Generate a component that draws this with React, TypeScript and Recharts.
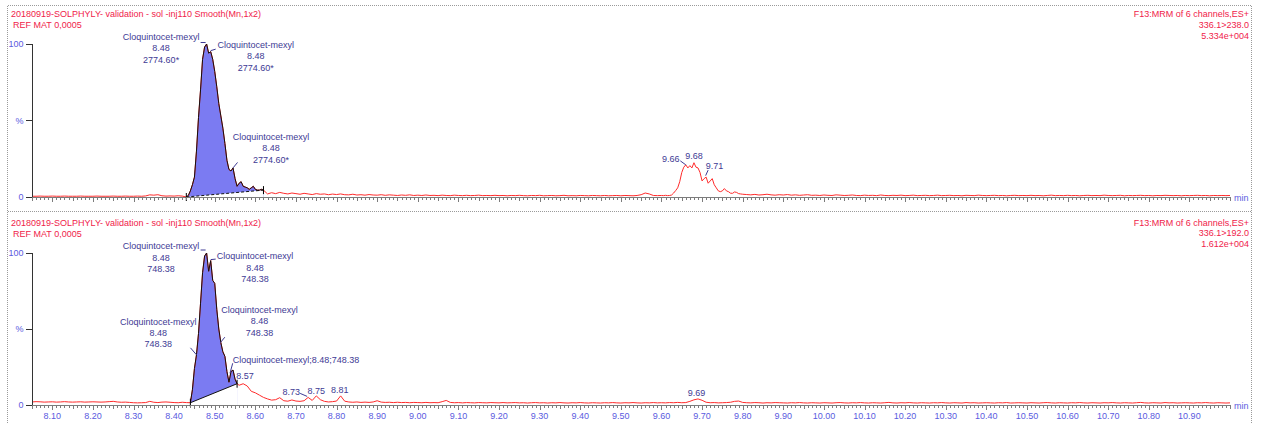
import { ComposedChart, Line, Area, Scatter, XAxis, YAxis } from "recharts"

const RED = "#ff2b2b"
const HEAD = "#f0224a"
const TICK = "#5a5ae0"
const NOTE = "#3e3a94"
const FILL = "#7b7bf2"
const FONT = "'Liberation Sans', Arial, sans-serif"

// x axis: labelled every 0.1 min, ticks every 0.01 min
const xLabels = [
  "8.10", "8.20", "8.30", "8.40", "8.50", "8.60", "8.70", "8.80", "8.90", "9.00",
  "9.10", "9.20", "9.30", "9.40", "9.50", "9.60", "9.70", "9.80", "9.90", "10.00",
  "10.10", "10.20", "10.30", "10.40", "10.50", "10.60", "10.70", "10.80", "10.90",
]
const xMajor = xLabels.map(Number)
const xTicks: number[] = []
for (let i = 805; i <= 1100; i++) xTicks.push(i / 100)

// 336.1>238.0 trace (%)
const topPre = [
  0.5, 0.5, 0.6, 0.5, 0.5, 0.6, 0.5, 0.5, 0.6, 0.5,
  0.5, 0.5, 0.6, 0.5, 0.5, 0.5, 0.6, 0.5, 0.5, 0.5,
  0.6, 0.5, 0.5, 0.6, 0.5, 0.5, 0.6, 0.5, 0.7, 1.4,
  1.2, 1.5, 0.8, 0.6, 0.7, 0.6, 0.8, 0.6,
]
const topPeak = [
  0, 1, 4, 8, 13, 30, 52, 70, 90, 98,
  100, 94, 95, 90, 82, 72, 61, 53, 45, 35,
  24, 18, 17, 19, 12, 7, 9, 10, 7, 6.5,
  6, 5, 6, 7, 5, 4.5, 4.5, 5, 4.5,
]
const topMid = [
  2.0, 2.8, 2.2, 3.0, 2.4, 2.0, 2.6, 2.2, 1.8, 2.4,
  2.0, 1.6, 2.2, 1.8, 2.0, 1.5, 1.9, 1.6, 2.0, 1.5,
  1.4, 1.8, 1.3, 1.5, 1.2, 1.6, 1.3, 1.2, 1.5, 1.1,
  1.4, 1.2, 1.0, 1.3, 1.1, 1.4, 1.0, 1.2, 1.0, 1.3,
  1.0, 1.1, 0.9, 1.2, 1.0, 0.9, 1.2, 1.0, 0.9, 1.1,
  0.9, 1.0, 1.2, 0.9, 1.0, 0.9, 1.1, 0.9, 1.0, 0.8,
  1.0, 0.9, 1.1, 0.9, 0.8, 1.0, 0.9, 1.1, 0.8, 0.9,
  1.0, 0.8, 0.9, 1.1, 0.8, 0.9, 0.8, 1.0, 0.9, 0.8,
  1.0, 0.9, 0.8, 1.0, 0.8, 0.9, 1.0, 0.8, 1.0, 0.9,
  0.8, 1.0, 1.5, 2.6, 2.0, 1.0, 0.9,
]
const topHump = [
  1.0, 0.9, 1.1, 0.9, 1.0, 1.3, 2.6, 4.2, 6.0, 10,
  16, 19.5, 21, 19, 20.5, 19, 22.4, 19.5, 19, 16,
  10.5, 12, 13, 9, 10.5, 12, 8, 6, 4, 3.5,
  4, 5.5, 4, 3.5, 2.5, 2.4, 3.3, 3, 2.2, 2,
  1.8,
]
const topPost = [
  1.6, 1.4, 1.7, 1.3, 1.5, 1.8, 1.4, 1.2, 1.5, 1.3,
  1.6, 1.2, 1.4, 1.1, 1.3, 1.5, 1.1, 1.2, 1.0, 1.3,
  1.1, 1.0, 1.4, 1.2, 1.0, 1.1, 1.3, 1.0, 0.9, 1.2,
  1.0, 1.1, 0.9, 1.3, 1.0, 0.9, 1.1, 1.0, 1.2, 0.9,
  1.0, 1.2, 0.9, 1.0, 1.1, 0.9, 1.0, 1.2, 0.9, 1.0,
  1.1, 0.9, 1.0, 0.8, 1.1, 1.0, 0.9, 1.2, 1.0, 0.9,
  1.0, 1.1, 0.9, 1.0, 0.8, 1.0, 1.1, 0.9, 1.0, 0.9,
  1.1, 0.9, 1.0, 0.8, 1.0, 1.2, 0.9, 1.0, 0.9, 1.1,
  0.9, 1.0, 0.8, 1.0, 1.1, 0.9, 1.0, 0.9, 1.2, 1.0,
  0.9, 1.0, 1.1, 0.8, 1.0, 0.9, 1.0, 1.1, 0.9, 1.0,
  0.8, 1.0, 0.9, 1.1, 1.0, 0.9, 1.0, 0.8, 1.0, 0.9,
  1.0, 1.1, 0.9, 1.0, 0.8, 1.0, 0.9, 1.0, 0.9, 1.0,
]

// 336.1>192.0 trace (%)
const botPre = [
  2.0, 2.2, 2.1, 1.9, 2.0, 2.1, 1.9, 2.0, 2.2, 2.0,
  1.9, 2.0, 2.1, 1.9, 2.0, 2.1, 2.0, 1.9, 2.0, 2.2,
  2.4, 2.0, 1.8, 1.9, 1.7, 1.5, 1.4, 1.5, 1.6, 2.4,
  1.8, 1.6, 1.9, 2.0, 1.8, 1.6, 1.5, 1.8, 1.6,
]
const botPeak = [
  1.5, 10, 24, 33, 47, 67, 87, 98, 100, 88,
  95, 82, 80, 63, 50, 41, 35, 32, 22, 15,
  22, 23, 17, 14,
]
const botMid = [
  13, 14, 12.5, 9, 8, 6.5, 5, 4, 3.2, 3.5,
  4.8, 2.8, 2.5, 3.3, 2.6, 2.4, 2.8, 5, 3, 6,
  3.5, 2.4, 2.0, 2.2, 2.6, 6, 2.5, 2.0, 1.8, 2.0,
  1.7, 1.9, 1.7, 2.0, 2.8, 1.9, 1.7, 1.8, 1.6, 1.8,
  1.6, 1.7, 1.5, 1.7, 1.6, 1.5, 1.7, 1.5, 1.6, 1.5,
  2.2, 3.0, 1.7, 1.5, 1.6, 1.4, 1.6, 1.5, 1.4, 1.6,
  1.5, 1.4, 1.6, 1.5, 1.4, 1.6, 1.4, 1.5, 1.6, 1.4,
  1.5, 1.3, 1.5, 1.6, 1.4, 1.5, 1.3, 1.5, 1.4, 1.6,
  1.4, 1.3, 1.5, 1.4, 1.6, 1.4, 1.3, 1.5, 1.4, 1.3,
  1.5, 1.4, 1.6, 1.4, 1.3, 1.5, 1.4, 1.6, 1.4, 1.3,
  1.5, 1.4, 1.6, 1.4, 1.5,
]
const botPost = [
  1.4, 1.6, 1.5, 1.7, 1.5, 1.6, 2.4, 3.4, 4.0, 3.1,
  1.8, 1.5, 1.6, 1.4, 1.5, 1.6, 1.8, 2.4, 2.6, 1.7,
  1.5, 1.4, 1.6, 1.5, 1.3, 1.5, 1.4, 1.6, 1.5, 1.4,
  1.3, 1.5, 1.4, 1.6, 1.4, 1.3, 1.5, 1.4, 1.3, 1.5,
  1.4, 1.3, 1.5, 1.6, 1.4, 1.3, 1.5, 1.4, 1.6, 1.4,
  1.3, 1.5, 1.4, 1.3, 1.5, 1.7, 1.4, 1.3, 1.5, 1.4,
  1.6, 1.4, 1.3, 1.5, 1.4, 1.3, 1.5, 1.4, 1.6, 1.4,
  1.3, 1.5, 1.4, 1.3, 1.6, 1.4, 1.5, 1.3, 1.4, 1.5,
  1.4, 1.3, 1.5, 1.4, 1.6, 1.3, 1.4, 1.5, 1.4, 1.3,
  1.5, 1.4, 1.3, 1.5, 1.6, 1.4, 1.3, 1.5, 1.4, 1.3,
  1.5, 1.4, 1.6, 1.4, 1.3, 1.5, 1.4, 1.3, 1.5, 1.4,
  1.6, 1.4, 1.3, 1.5, 1.4, 1.3, 1.5, 1.7, 1.4, 1.3,
  1.5, 1.4, 1.3, 1.6, 1.4, 1.5, 1.3, 1.4, 1.5, 1.4,
  1.3, 1.5, 1.4, 1.6, 1.4, 1.3, 1.5, 1.4, 1.3, 1.4,
]

const topSegments = [
  { from: 8.05, step: 0.01, values: topPre },
  { from: 8.43, step: 0.005, values: topPeak, peak: true },
  { from: 8.63, step: 0.01, values: topMid },
  { from: 9.6, step: 0.005, values: topHump },
  { from: 9.81, step: 0.01, values: topPost },
]
const botSegments = [
  { from: 8.05, step: 0.01, values: botPre },
  { from: 8.44, step: 0.005, values: botPeak, peak: true },
  { from: 8.56, step: 0.01, values: botMid },
  { from: 9.61, step: 0.01, values: botPost },
]

const CQ = "Cloquintocet-mexyl"
const topNotes = [
  { t: 8.48, text: [CQ, "8.48", "2774.60*"] },
  { t: 8.49, text: [CQ, "8.48", "2774.60*"] },
  { t: 8.545, text: [CQ, "8.48", "2774.60*"] },
  { t: 9.66, text: ["9.66"] },
  { t: 9.68, text: ["9.68"] },
  { t: 9.71, text: ["9.71"] },
]
const topNoteLayout = [
  { dx: -45.5, dy: -7.3, anchor: "middle", lead: [-6, -1.5, -1, -1.5] },
  { dx: 45, dy: -6.7, anchor: "middle", lead: [0, -1, 5, -2.5] },
  { dx: 38, dy: -31.2, anchor: "middle", lead: [0, 0, 4.5, -5.5] },
  { dx: -15, dy: -6, anchor: "middle", lead: [-5.5, -4, 0, 0] },
  { dx: 0, dy: -7, anchor: "middle" },
  { dx: 8.4, dy: -11.6, anchor: "middle", lead: [2, -7, -0.5, -1.5] },
]
const botNotes = [
  { t: 8.48, text: [CQ, "8.48", "748.38"] },
  { t: 8.49, text: [CQ, "8.48", "748.38"] },
  { t: 8.455, text: [CQ, "8.48", "748.38"] },
  { t: 8.515, text: [CQ, "8.48", "748.38"] },
  { t: 8.54, text: [CQ + ";8.48;748.38"] },
  { t: 8.57, text: ["8.57"] },
  { t: 8.73, text: ["8.73"] },
  { t: 8.75, text: ["8.75"] },
  { t: 8.81, text: ["8.81"] },
  { t: 9.69, text: ["9.69"] },
]
const botNoteLayout = [
  { dx: -45.6, dy: -7, anchor: "middle", lead: [-6, -3, -1, -3] },
  { dx: 44.3, dy: -4.6, anchor: "middle", lead: [0, -1, 5, -1.5] },
  { dx: -38.2, dy: -33.5, anchor: "middle", lead: [-6, -7, 0, 0] },
  { dx: 38.6, dy: -32.7, anchor: "middle", lead: [4, -5.5, -0.5, 0] },
  { dx: 1.7, dy: -11.6, anchor: "start", lead: [1.7, -8.3, -1, 1.7] },
  { dx: 1.8, dy: -7.7, anchor: "middle" },
  { dx: -17, dy: -5.2, anchor: "middle", lead: [-8, -4, -1, -1] },
  { dx: 0, dy: -5.5, anchor: "middle" },
  { dx: -0.8, dy: -6.2, anchor: "middle" },
  { dx: -1.5, dy: -6, anchor: "middle" },
]

type Seg = { from: number; step: number; values: number[]; peak?: boolean }

function buildRows(segs: Seg[]) {
  const rows: any[] = []
  segs.forEach(s =>
    s.values.forEach((v, i) => {
      const row: any = { t: +(s.from + i * s.step).toFixed(4), y: v }
      if (s.peak) row.peak = v
      rows.push(row)
    })
  )
  // integration baseline joins the first and last point of the peak
  const pk = rows.filter(r => r.peak !== undefined)
  pk[0].base = pk[0].peak
  pk[pk.length - 1].base = pk[pk.length - 1].peak
  return rows
}

function notePoints(rows: any[], notes: any[], layout: any[]) {
  return notes.map((n, i) => {
    const r = rows.find(row => Math.abs(row.t - n.t) < 1e-6)
    return { ...n, v: r ? r.y : 0, ...layout[i] }
  })
}

const topRows = buildRows(topSegments)
const botRows = buildRows(botSegments)

const XTick = ({ x, y, payload, labelled }: any) => {
  const c = Math.round(payload.value * 100)
  const mi = xMajor.findIndex(m => Math.round(m * 100) === c)
  const len = mi >= 0 ? 5 : c % 5 === 0 ? 4 : 3
  const px = Math.round(x) + 0.5
  return (
    <g>
      <line x1={px} x2={px} y1={y} y2={y + len} stroke="#7c7c7c" />
      {labelled && mi >= 0 && (
        <text x={x} y={y + 13.5} textAnchor="middle" fontSize={9} fill={TICK}>
          {xLabels[mi]}
        </text>
      )}
    </g>
  )
}

const NoteShape = (p: any) => {
  const { cx, cy, payload } = p
  const { text, dx, dy, anchor, lead } = payload
  return (
    <g>
      {lead && (
        <line x1={cx + lead[0]} y1={cy + lead[1]} x2={cx + lead[2]} y2={cy + lead[3]} stroke={NOTE} />
      )}
      <text textAnchor={anchor} fontSize={9} fill={NOTE}>
        {text.map((s: string, i: number) => (
          <tspan key={i} x={cx + dx} y={cy + dy + 3.2 + i * 11.3}>
            {s}
          </tspan>
        ))}
      </text>
    </g>
  )
}

const MarkShape = (p: any) => (
  <line x1={p.cx} x2={p.cx} y1={p.cy - 4} y2={p.cy + 4} stroke="#000" />
)

function Panel({ rows, notes, dashed, height, bottom, labelled }: any) {
  const marks = rows.filter((r: any) => r.base !== undefined).map((r: any) => ({ t: r.t, v: r.base }))
  return (
    <ComposedChart width={1263} height={height} data={rows} margin={{ top: 44, right: 33, bottom: bottom - 1, left: 31 }}>
      <Area dataKey="peak" type="linear" stroke="none" fill={FILL} fillOpacity={1} isAnimationActive={false} />
      <Area dataKey="base" type="linear" stroke="none" fill="#fff" fillOpacity={1} connectNulls isAnimationActive={false} />
      <XAxis
        dataKey="t"
        type="number"
        domain={[8.05, 11.0]}
        ticks={xTicks}
        interval={0}
        height={1}
        tickSize={0}
        tickMargin={0}
        tickLine={false}
        axisLine={{ stroke: "#7c7c7c", shapeRendering: "crispEdges" }}
        tick={<XTick labelled={labelled} />}
        label={{ value: "min", position: "right", offset: 4, fill: TICK, fontSize: 9 }}
      />
      <YAxis
        type="number"
        domain={[0, 100]}
        ticks={[0, 50, 100]}
        width={1}
        tickSize={6}
        tickMargin={2.5}
        tickFormatter={(v: number) => (v === 50 ? "%" : String(v))}
        tick={{ fill: TICK, fontSize: 9 }}
        axisLine={{ stroke: "#333", shapeRendering: "crispEdges" }}
        tickLine={{ stroke: "#333", shapeRendering: "crispEdges" }}
      />
      <Line dataKey="y" type="linear" stroke={RED} strokeWidth={1} dot={false} isAnimationActive={false} />
      <Line dataKey="peak" type="linear" stroke="#111" strokeWidth={1} dot={false} isAnimationActive={false} />
      <Line
        dataKey="base"
        type="linear"
        stroke="#111"
        strokeWidth={1}
        strokeDasharray={dashed ? "3 2" : undefined}
        connectNulls
        dot={false}
        isAnimationActive={false}
      />
      <Scatter data={marks} dataKey="v" shape={MarkShape} isAnimationActive={false} />
      <Scatter data={notes} dataKey="v" shape={NoteShape} isAnimationActive={false} />
    </ComposedChart>
  )
}

function Frame() {
  const dot = { stroke: "#9a9a9a", strokeDasharray: "1 1", shapeRendering: "crispEdges" as const }
  const head = { fontSize: 9, fill: HEAD }
  return (
    <svg width={1263} height={423} style={{ position: "absolute", left: 0, top: 0 }}>
      <line x1={7.5} x2={1251.5} y1={5.5} y2={5.5} {...dot} />
      <line x1={7.5} x2={1251.5} y1={211.5} y2={211.5} {...dot} />
      <line x1={7.5} x2={7.5} y1={5.5} y2={423} {...dot} />
      <line x1={1251.5} x2={1251.5} y1={5.5} y2={423} {...dot} />

      <text x={11} y={16.5} {...head}>20180919-SOLPHYLY- validation - sol -inj110 Smooth(Mn,1x2)</text>
      <text x={13} y={27.5} {...head}>REF MAT 0,0005</text>
      <text x={1249} y={16.5} textAnchor="end" {...head}>F13:MRM of 6 channels,ES+</text>
      <text x={1249} y={28} textAnchor="end" {...head}>336.1&gt;238.0</text>
      <text x={1249} y={39} textAnchor="end" {...head}>5.334e+004</text>

      <text x={11} y={225.8} {...head}>20180919-SOLPHYLY- validation - sol -inj110 Smooth(Mn,1x2)</text>
      <text x={13} y={236.5} {...head}>REF MAT 0,0005</text>
      <text x={1249} y={225.5} textAnchor="end" {...head}>F13:MRM of 6 channels,ES+</text>
      <text x={1249} y={236} textAnchor="end" {...head}>336.1&gt;192.0</text>
      <text x={1249} y={247} textAnchor="end" {...head}>1.612e+004</text>
    </svg>
  )
}

export default function App() {
  return (
    <div style={{ position: "absolute", left: 0, top: 0, width: 1263, height: 423, background: "#fff", fontFamily: FONT }}>
      <Frame />
      <div style={{ position: "absolute", left: 0, top: 0 }}>
        <Panel
          rows={topRows}
          notes={notePoints(topRows, topNotes, topNoteLayout)}
          dashed
          height={212}
          bottom={15}
          labelled={false}
        />
      </div>
      <div style={{ position: "absolute", left: 0, top: 209 }}>
        <Panel
          rows={botRows}
          notes={notePoints(botRows, botNotes, botNoteLayout)}
          dashed={false}
          height={214}
          bottom={18}
          labelled
        />
      </div>
    </div>
  )
}
